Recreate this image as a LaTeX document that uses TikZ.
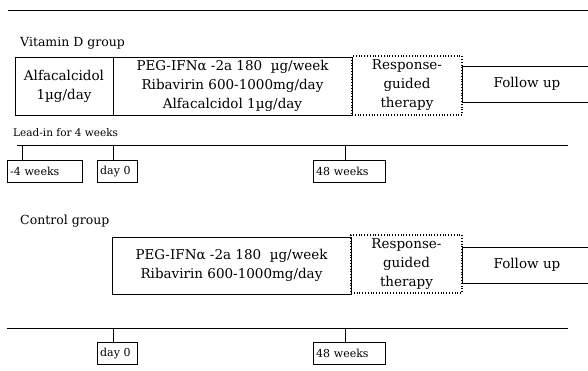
\documentclass[tikz,border=0pt]{standalone}
\usepackage{fontspec}
\setmainfont{DejaVu Serif}

\begin{document}
\begin{tikzpicture}
    [x=1pt, y=-1pt,
    box/.style={draw, thick, rectangle, align=center, inner sep=0pt, font=\fontsize{13.5}{19}\selectfont},
    dotbox/.style={box, dotted, very thick},
    datebox/.style={draw, rectangle, anchor=north west, align=left, inner xsep=3pt, inner ysep=0pt, minimum height=22pt, font=\fontsize{11}{12}\selectfont},
    heading/.style={anchor=west, inner sep=0pt, font=\fontsize{12.5}{15}\selectfont},
    line/.style={thick, black},
    tick/.style={semithick, black}]

    \useasboundingbox (0,0) rectangle (588,371);

    % Rule at the top
    \coordinate (top1) at (8,10);
    \coordinate (top2) at (588,10);
    \draw[line] (top1) -- (top2);

    % Vitamin D group
    \node[heading] (vitd) at (20,43) {Vitamin D group};
    \node[box, minimum width=98pt, minimum height=58pt] (alfa) at (64,86) {Alfacalcidol\\1µg/day};
    \node[box, minimum width=239pt, minimum height=58pt] (peg1) at (232.5,86) {PEG-IFNα -2a 180~ µg/week\\Ribavirin 600-1000mg/day\\Alfacalcidol 1µg/day};
    \node[dotbox, minimum width=110pt, minimum height=59pt] (resp1) at (407,85.5) {Response-\\guided\\therapy};
    \node[box, minimum width=130pt, minimum height=36pt] (fol1) at (527,84) {Follow up};

    % Timeline for the vitamin D group
    \node[heading, font=\fontsize{10.5}{12}\selectfont] (lead) at (13,133) {Lead-in for 4 weeks};
    \coordinate (tl1s) at (17,145);
    \coordinate (tl1e) at (568,145);
    \draw[line] (tl1s) -- (tl1e);
    \coordinate (ta) at (22,145);
    \coordinate (tb) at (113,145);
    \coordinate (tc) at (345,145);
    \node[datebox, text width=69pt] (wk4) at (7,160) {-4 weeks};
    \node[datebox, text width=34pt] (day0) at (97,160) {day 0};
    \node[datebox, text width=66pt] (wk48) at (313,160) {48 weeks};
    \draw[tick] (ta) -- (ta |- wk4.north);
    \draw[tick] (tb) -- (tb |- day0.north);
    \draw[tick] (tc) -- (tc |- wk48.north);

    % Control group
    \node[heading] (ctrl) at (20,221) {Control group};
    \node[box, minimum width=239pt, minimum height=57pt] (peg2) at (231.5,265.5) {PEG-IFNα -2a 180~ µg/week\\Ribavirin 600-1000mg/day};
    \node[dotbox, minimum width=111pt, minimum height=58pt] (resp2) at (406.5,264) {Response-\\guided\\therapy};
    \node[box, minimum width=130pt, minimum height=36pt] (fol2) at (527,265) {Follow up};

    % Timeline for the control group
    \coordinate (tl2s) at (7,328);
    \coordinate (tl2e) at (568,328);
    \draw[line] (tl2s) -- (tl2e);
    \coordinate (td) at (113,328);
    \coordinate (te) at (345,328);
    \node[datebox, text width=34pt] (day0b) at (97,342) {day 0};
    \node[datebox, text width=66pt] (wk48b) at (313,342) {48 weeks};
    \draw[tick] (td) -- (td |- day0b.north);
    \draw[tick] (te) -- (te |- wk48b.north);

\end{tikzpicture}
\end{document}
